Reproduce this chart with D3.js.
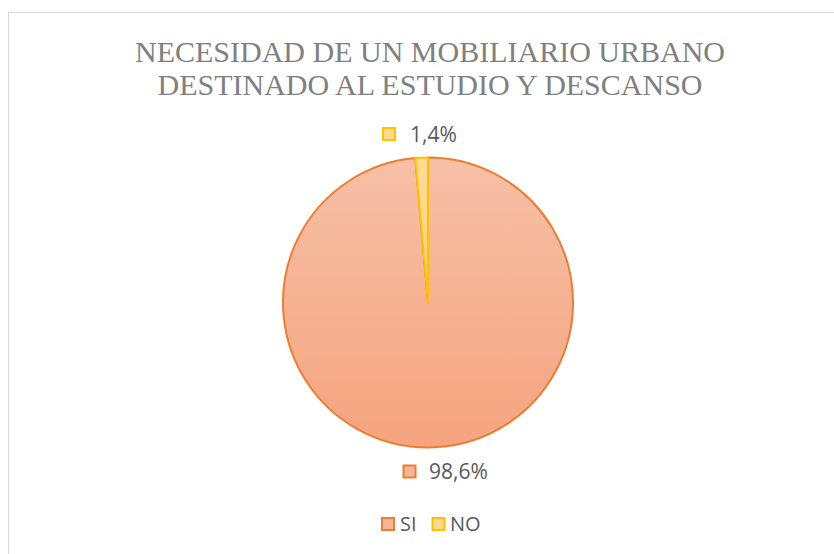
<!DOCTYPE html>
<html><head><meta charset="utf-8">
<script src="https://cdn.jsdelivr.net/npm/d3@7"></script>
<style>body{margin:0;background:#fff}svg{display:block}</style>
</head><body><svg id="c" width="834" height="554"></svg>
<script>
const categories = ["SI", "NO"];
const values = [98.6, 1.4];
const labels = ["98,6%", "1,4%"];
const titleLines = ["NECESIDAD DE UN MOBILIARIO URBANO", "DESTINADO AL ESTUDIO Y DESCANSO"];

const svg = d3.select("#c");
svg.append("rect").attr("x", 8.5).attr("y", 12.5).attr("width", 840).attr("height", 560)
  .attr("fill", "#fff").attr("stroke", "#d9d9d9").attr("stroke-width", 1);

const defs = svg.append("defs");
const g1 = defs.append("linearGradient").attr("id", "gSI").attr("x1", 0).attr("y1", 0).attr("x2", 0).attr("y2", 1);
g1.append("stop").attr("offset", "0%").attr("stop-color", "#f6c0a7");
g1.append("stop").attr("offset", "100%").attr("stop-color", "#f5a47e");
const g2 = defs.append("linearGradient").attr("id", "gNO").attr("x1", 0).attr("y1", 0).attr("x2", 0).attr("y2", 1);
g2.append("stop").attr("offset", "0%").attr("stop-color", "#ffdc96");
g2.append("stop").attr("offset", "100%").attr("stop-color", "#ffd47a");

const fills = d3.scaleOrdinal().domain(categories).range(["url(#gSI)", "url(#gNO)"]);
const strokes = d3.scaleOrdinal().domain(categories).range(["#ed7d31", "#ffc000"]);
const swatch = d3.scaleOrdinal().domain(categories).range(["#f6b597", "#ffd98a"]);

const title = svg.append("text").attr("text-anchor", "middle")
  .attr("font-family", "'Liberation Serif', 'Times New Roman', serif")
  .attr("font-size", 30).attr("fill", "#808080");
titleLines.forEach((t, i) => title.append("tspan").attr("x", 430).attr("y", 62 + i * 33).text(t));

const cx = 428, cy = 302.5, R = 145;
const pie = d3.pie().sort(null).value(d => d.v);
const data = pie(categories.map((c, i) => ({c, v: values[i], l: labels[i]})));
const arc = d3.arc().innerRadius(0).outerRadius(R);
const pg = svg.append("g").attr("transform", `translate(${cx},${cy})`);
pg.selectAll("path").data(data).join("path")
  .attr("d", arc)
  .attr("fill", d => fills(d.data.c))
  .attr("stroke", d => strokes(d.data.c))
  .attr("stroke-width", 2)
  .attr("stroke-linejoin", "round");

const fontS = "'Open Sans', 'Liberation Sans', sans-serif";

// data labels
const labelPos = {SI: {x: 409.5, y: 471.5, tx: 429}, NO: {x: 389, y: 134, tx: 410}};
data.forEach(d => {
  const p = labelPos[d.data.c];
  svg.append("rect").attr("x", p.x - 6).attr("y", p.y - 6).attr("width", 12).attr("height", 12)
    .attr("fill", swatch(d.data.c)).attr("stroke", strokes(d.data.c)).attr("stroke-width", 2);
  svg.append("text").attr("x", p.tx).attr("y", p.y + 7.5).attr("font-family", fontS)
    .attr("font-size", 21).attr("fill", "#595959").text(d.data.l);
});

// legend
const leg = {SI: {x: 388, tx: 400}, NO: {x: 438.5, tx: 450}};
categories.forEach(c => {
  const p = leg[c], y = 524;
  svg.append("rect").attr("x", p.x - 6).attr("y", y - 6).attr("width", 12).attr("height", 12)
    .attr("fill", swatch(c)).attr("stroke", strokes(c)).attr("stroke-width", 2);
  svg.append("text").attr("x", p.tx).attr("y", y + 7).attr("font-family", fontS)
    .attr("font-size", 20).attr("fill", "#595959").text(c);
});
</script></body></html>
